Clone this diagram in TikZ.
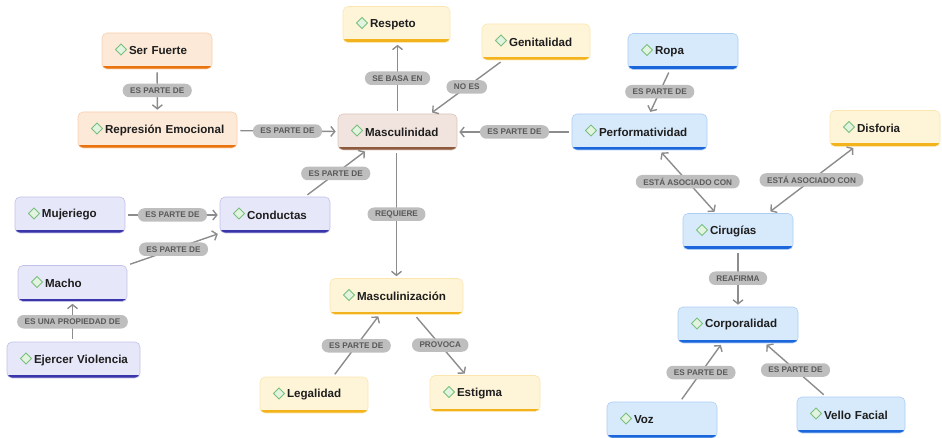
\documentclass[tikz,border=0pt]{standalone}
\usepackage{fontspec}
\setmainfont{Liberation Sans}
\usetikzlibrary{arrows.meta}

\definecolor{orangefill}{HTML}{FDE9D8}
\definecolor{orangebar}{HTML}{E9730F}
\definecolor{yellowfill}{HTML}{FEF4D8}
\definecolor{yellowbar}{HTML}{F2B31C}
\definecolor{brownfill}{HTML}{F1E3DD}
\definecolor{brownbar}{HTML}{8E5A3D}
\definecolor{bluefill}{HTML}{D7EAFC}
\definecolor{bluebar}{HTML}{1C66DB}
\definecolor{purplefill}{HTML}{E7E7FA}
\definecolor{purplebar}{HTML}{3A36AA}
\definecolor{dia edge}{HTML}{78C07C}
\definecolor{dia fill}{HTML}{E2F4E0}
\definecolor{pillfill}{HTML}{BEBEBE}
\definecolor{pilltext}{HTML}{595959}
\definecolor{linkgray}{HTML}{8C8C8C}
\definecolor{nodetext}{HTML}{1E1E1E}
\tikzset{concept/.style={rounded corners=5pt, line width=0.6pt, minimum height=36pt,
        inner xsep=0pt, inner ysep=0pt, text width=110pt, align=left, text=nodetext,
        font=\fontsize{11.6}{13}\selectfont\bfseries,
        execute at begin node={\hspace*{27pt}}},
    colored/.style 2 args={concept, fill=#1, draw=#2!22!#1, path picture={
        \fill[#2, sharp corners] (path picture bounding box.south west)
            rectangle ([yshift=3pt]path picture bounding box.south east);
        \draw[dia edge, fill=dia fill, line width=0.8pt, sharp corners]
            ([xshift=13.5pt,yshift=1.5pt]path picture bounding box.west) -- ++(5.5pt,5.5pt)
            -- ++(5.5pt,-5.5pt) -- ++(-5.5pt,-5.5pt) -- cycle;}},
    orangebox/.style={colored={orangefill}{orangebar}},
    yellowbox/.style={colored={yellowfill}{yellowbar}},
    brownbox/.style={colored={brownfill}{brownbar}},
    bluebox/.style={colored={bluefill}{bluebar}},
    purplebox/.style={colored={purplefill}{purplebar}},
    pill/.style={fill=pillfill, text=pilltext, rounded corners=6.5pt, inner xsep=7.5pt,
        inner ysep=0pt, minimum height=13.5pt, font=\fontsize{8.2}{9}\selectfont\bfseries},
    link/.style={draw=linkgray, line width=1.4pt, -{Straight Barb[length=4pt,width=10pt]},
        shorten <=3pt, shorten >=2pt},
    twoway/.style={link, {Straight Barb[length=4pt,width=10pt]}-{Straight Barb[length=4pt,width=10pt]}}}

\begin{document}
\begin{tikzpicture}[x=1pt, y=-1pt]
    \useasboundingbox (0,0) rectangle (942,438);

    \node[orangebox] (sf) at (157,51) {Ser Fuerte};
    \node[orangebox, text width=159pt] (rep) at (157.5,130) {Represión Emocional};
    \node[yellowbox, text width=107pt] (resp) at (396.5,24.5) {Respeto};
    \node[yellowbox, text width=108pt] (gen) at (536,42) {Genitalidad};
    \node[brownbox, text width=119pt] (masc) at (397.5,132) {Masculinidad};
    \node[bluebox, text width=135pt] (perf) at (639.5,132) {Performatividad};
    \node[bluebox] (ropa) at (683,51.5) {Ropa};
    \node[yellowbox] (dis) at (885,128.5) {Disforia};
    \node[bluebox] (cir) at (738,231.5) {Cirugías};
    \node[bluebox, text width=120pt] (corp) at (738,325) {Corporalidad};
    \node[bluebox] (voz) at (662,420) {Voz};
    \node[bluebox, text width=108pt] (vf) at (851,415) {Vello Facial};
    \node[purplebox] (muj) at (70,215) {Mujeriego};
    \node[purplebox] (cond) at (275,215) {Conductas};
    \node[purplebox, text width=109pt] (macho) at (72.5,283.5) {Macho};
    \node[purplebox, text width=133pt] (ev) at (73.5,360) {Ejercer Violencia};
    \node[yellowbox, text width=133pt] (mz) at (396.5,296.5) {Masculinización};
    \node[yellowbox, text width=108pt] (leg) at (314,395) {Legalidad};
    \node[yellowbox] (est) at (485,393.5) {Estigma};

    \draw[link] (sf) -- node[pill] (l-sf) {ES PARTE DE} (rep);
    \draw[link] (rep) -- node[pill] (l-rep) {ES PARTE DE} (masc);
    \draw[link] (masc.north) -- node[pill] (l-resp) {SE BASA EN} (masc.north |- resp.south);
    \draw[link] ([xshift=-33pt]gen.south) -- node[pill] (l-gen) {NO ES} ([xshift=33pt]masc.north);
    \draw[link] (perf) -- node[pill] (l-perf) {ES PARTE DE} (masc);
    \draw[link] ([xshift=30pt]cond.north) -- node[pill] (l-cond) {ES PARTE DE} ([xshift=-31pt]masc.south);
    \draw[link] (muj) -- node[pill] (l-muj) {ES PARTE DE} (cond);
    \draw[link] (macho.north east) -- node[pill] (l-macho) {ES PARTE DE} (cond.south west);
    \draw[link] (ev.north -| macho.south) -- node[pill] (l-ev) {ES UNA PROPIEDAD DE} (macho.south);
    \draw[link] (masc.south -| mz.north) -- node[pill] (l-mz) {REQUIERE} (mz.north);
    \draw[link] ([xshift=19pt]leg.north) -- node[pill] (l-leg) {ES PARTE DE} ([xshift=-17pt]mz.south);
    \draw[link] ([xshift=18pt]mz.south) -- node[pill] (l-est) {PROVOCA} ([xshift=-19pt]est.north);
    \draw[link] ([xshift=-13pt]ropa.south) -- node[pill] (l-ropa) {ES PARTE DE} ([xshift=10pt]perf.north);
    \draw[twoway] ([xshift=20pt]perf.south) -- node[pill] (l-perf-cir) {ESTÁ ASOCIADO CON} ([xshift=-22pt]cir.north);
    \draw[twoway] ([xshift=30pt]cir.north) -- node[pill] (l-dis) {ESTÁ ASOCIADO CON} ([xshift=-30pt]dis.south);
    \draw[link] (cir) -- node[pill] (l-cir) {REAFIRMA} (corp);
    \draw[link] ([xshift=18pt]voz.north) -- node[pill] (l-voz) {ES PARTE DE} ([xshift=-16pt]corp.south);
    \draw[link] ([xshift=-25pt]vf.north) -- node[pill] (l-vf) {ES PARTE DE} ([xshift=27pt]corp.south);
\end{tikzpicture}
\end{document}
